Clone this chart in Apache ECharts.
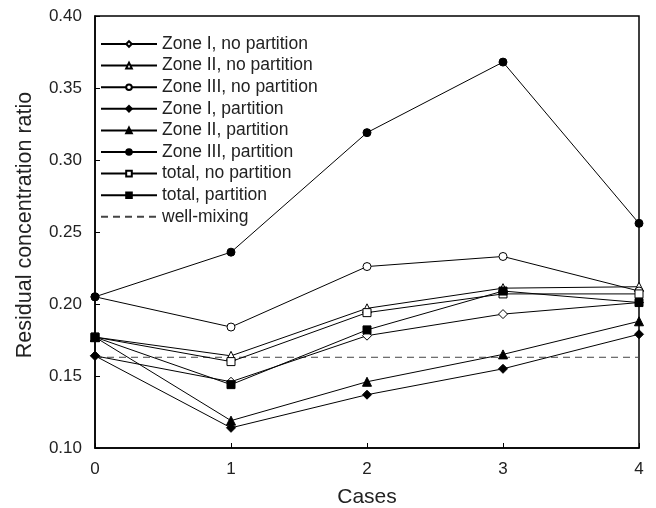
<!DOCTYPE html>
<html>
<head>
<meta charset="utf-8">
<script src="https://cdn.jsdelivr.net/npm/echarts@6/dist/echarts.min.js"></script>
<style>
  html, body { margin: 0; padding: 0; background: #fff; }
  #chart { width: 656px; height: 508px; }
</style>
</head>
<body>
<div id="chart"></div>
<script>
const cases = [0, 1, 2, 3, 4]
const zone1NoPart = [0.164, 0.146, 0.178, 0.193, 0.201]
const zone2NoPart = [0.177, 0.164, 0.197, 0.211, 0.212]
const zone3NoPart = [0.205, 0.184, 0.226, 0.233, 0.209]
const zone1Part = [0.164, 0.114, 0.137, 0.155, 0.179]
const zone2Part = [0.177, 0.119, 0.146, 0.165, 0.188]
const zone3Part = [0.205, 0.236, 0.319, 0.368, 0.256]
const totalNoPart = [0.177, 0.160, 0.194, 0.207, 0.207]
const totalPart = [0.177, 0.144, 0.182, 0.209, 0.201]
const wellMixing = [0.163, 0.163, 0.163, 0.163, 0.163]

const font = 'Liberation Sans, Arial, sans-serif'

const pairs = vals => cases.map((c, i) => [c, vals[i]])

const mk = (name, vals, symbol, filled, size) => ({
  name,
  type: 'line',
  data: pairs(vals),
  symbol,
  symbolSize: size,
  lineStyle: { color: '#000', width: 1 },
  itemStyle: { color: filled ? '#000' : '#fff', borderColor: '#000', borderWidth: 1 },
  emphasis: { disabled: true },
  z: 3
})

const chart = echarts.init(document.getElementById('chart'))
chart.setOption({
  animation: false,
  grid: {
    left: 95, right: 17, top: 16, bottom: 60,
    outerBoundsMode: 'none',
    show: true, borderColor: '#000', borderWidth: 1.5
  },
  legend: {
    orient: 'vertical',
    left: 95,
    top: 30,
    itemWidth: 56,
    itemHeight: 7,
    itemGap: 3.6,
    textStyle: { fontFamily: font, fontSize: 17.5, color: '#222', lineHeight: 18 },
    data: ['Zone I, no partition', 'Zone II, no partition', 'Zone III, no partition',
      'Zone I, partition', 'Zone II, partition', 'Zone III, partition',
      'total, no partition', 'total, partition',
      { name: 'well-mixing', itemStyle: { color: 'rgba(0,0,0,0)', borderColor: 'rgba(0,0,0,0)' } }]
  },
  xAxis: {
    type: 'value',
    min: 0,
    max: 4,
    interval: 1,
    name: 'Cases',
    nameLocation: 'middle',
    nameGap: 39,
    nameTextStyle: { fontFamily: font, fontSize: 21, color: '#222' },
    axisLine: { lineStyle: { color: '#000', width: 1.5 } },
    axisTick: { inside: true, length: 5, lineStyle: { color: '#000' } },
    axisLabel: { fontFamily: font, fontSize: 17, color: '#222', margin: 13 },
    splitLine: { show: false }
  },
  yAxis: {
    type: 'value',
    min: 0.10,
    max: 0.40,
    interval: 0.05,
    name: 'Residual concentration ratio',
    nameLocation: 'middle',
    nameGap: 59,
    nameTextStyle: { fontFamily: font, fontSize: 21.5, color: '#222', padding: [0, 0, 0, 14] },
    axisLine: { lineStyle: { color: '#000', width: 1.5 } },
    axisTick: { inside: true, length: 5, lineStyle: { color: '#000' } },
    axisLabel: { fontFamily: font, fontSize: 17, color: '#222', margin: 13, formatter: v => v.toFixed(2) },
    splitLine: { show: false }
  },
  series: [
    mk('Zone I, no partition', zone1NoPart, 'diamond', false, 9),
    mk('Zone II, no partition', zone2NoPart, 'triangle', false, 9),
    mk('Zone III, no partition', zone3NoPart, 'circle', false, 8),
    mk('Zone I, partition', zone1Part, 'diamond', true, 9),
    mk('Zone II, partition', zone2Part, 'triangle', true, 9),
    mk('Zone III, partition', zone3Part, 'circle', true, 8),
    mk('total, no partition', totalNoPart, 'rect', false, 8),
    mk('total, partition', totalPart, 'rect', true, 8),
    {
      name: 'well-mixing',
      type: 'line',
      data: pairs(wellMixing),
      symbol: 'none',
      lineStyle: { color: '#444', width: 1, type: [7, 5] },
      itemStyle: { color: '#444' },
      emphasis: { disabled: true },
      z: 2
    }
  ]
})
</script>
</body>
</html>
